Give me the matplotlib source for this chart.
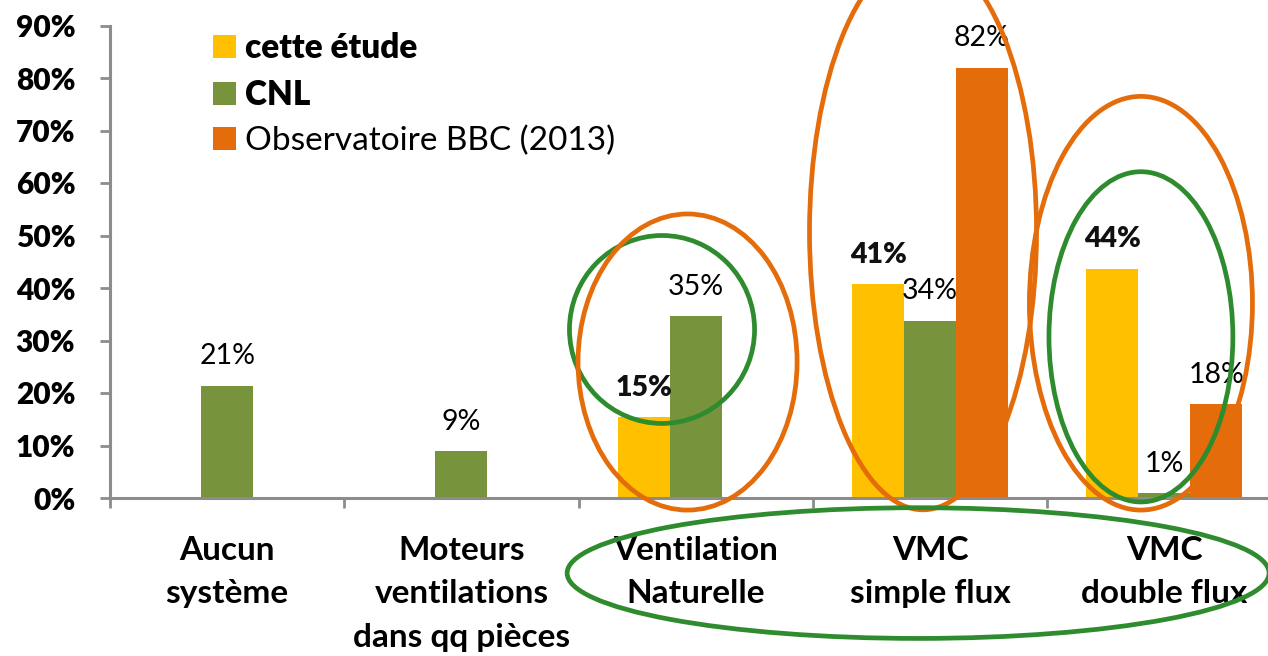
import numpy as np
import matplotlib
matplotlib.use("Agg")
import matplotlib.pyplot as plt
from matplotlib.patches import Ellipse, Patch

plt.rcParams['font.family'] = ['Lato', 'DejaVu Sans']

categories = ["Aucun\nsystème", "Moteurs\nventilations\ndans qq pièces",
              "Ventilation\nNaturelle", "VMC\nsimple flux", "VMC\ndouble flux"]
series_names = ["cette étude", "CNL", "Observatoire BBC (2013)"]
cette_etude = [np.nan, np.nan, 15.4, 40.7, 43.7]
cnl = [21.4, 9.0, 34.6, 33.8, 0.9]
observatoire = [np.nan, np.nan, np.nan, 82.0, 17.9]
yticks = [0, 10, 20, 30, 40, 50, 60, 70, 80, 90]

colors = ["#FFC000", "#77933C", "#E46C0A"]
label_bold = [True, False, False]

W, H = 1268, 656
fig = plt.figure(figsize=(W / 100, H / 100), dpi=100)
ax = fig.add_axes([110 / W, (H - 498) / H, 1171.5 / W, (498 - 25.5) / H])
ax.set_xlim(-0.5, 4.5)
ax.set_ylim(0, 90)

x = np.arange(len(categories))
bw = 0.222
offsets = [-bw, 0, bw]
for vals, c, off, bold in zip([cette_etude, cnl, observatoire], colors, offsets, label_bold):
    vals = np.array(vals, dtype=float)
    m = np.isfinite(vals)
    ax.bar(x[m] + off, vals[m], width=bw, color=c, zorder=2)
    for xi, v in zip(x[m] + off, vals[m]):
        ax.annotate(f"{round(v)}%", (xi, v), xytext=(0, 21), textcoords='offset points',
                    ha='center', va='center', fontsize=20.5,
                    fontweight='heavy' if bold else 'normal',
                    color='#111111' if bold else 'black', zorder=4)

gray = "#8C8C8C"
for s in ['top', 'right']:
    ax.spines[s].set_visible(False)
for s in ['left', 'bottom']:
    ax.spines[s].set_color(gray)
    ax.spines[s].set_linewidth(2.2)

ax.set_yticks(yticks)
ax.set_yticklabels([f"{t}%" for t in yticks], fontsize=21.5, fontweight='heavy')
ax.tick_params(axis='y', direction='out', length=7, width=2, color=gray, pad=18)

ax.set_xticks(np.arange(-0.5, 5.0, 1.0))
ax.set_xticklabels([])
ax.tick_params(axis='x', which='major', direction='out', length=7.5, width=2, color=gray)
ax.set_xticks(x, minor=True)
ax.set_xticklabels(categories, minor=True, fontsize=24, fontweight='bold', linespacing=1.62)
ax.tick_params(axis='x', which='minor', length=0, pad=27)

# highlight ellipses (data coords: category units, percent)
ellipses = [
    (1.856, 32.1, 0.790, 35.8, "#2E8B2E"),
    (1.965, 25.9, 0.935, 56.4, "#E46C0A"),
    (2.970, 50.7, 0.969, 105.9, "#E46C0A"),
    (3.900, 37.1, 0.952, 78.8, "#E46C0A"),
    (3.900, 30.7, 0.785, 62.9, "#2E8B2E"),
    (2.949, -14.3, 2.996, 24.9, "#2E8B2E"),
]
for cx, cy, ew, eh, ec in ellipses:
    ax.add_patch(Ellipse((cx, cy), ew, eh, fill=False, edgecolor=ec, linewidth=3.4,
                         clip_on=False, zorder=5))

handles = [Patch(facecolor=c, edgecolor='none') for c in colors]
leg = fig.legend(handles, series_names, loc='upper left',
                 bbox_to_anchor=(213 / W, 1 - 32 / H), bbox_transform=fig.transFigure,
                 frameon=False, fontsize=24, handlelength=0.7, handleheight=0.7,
                 handletextpad=0.25, labelspacing=0.45, borderpad=0, borderaxespad=0)
for t, b in zip(leg.get_texts(), [True, True, False]):
    t.set_fontweight('heavy' if b else 'normal')

fig.savefig("out.png", dpi=100)
